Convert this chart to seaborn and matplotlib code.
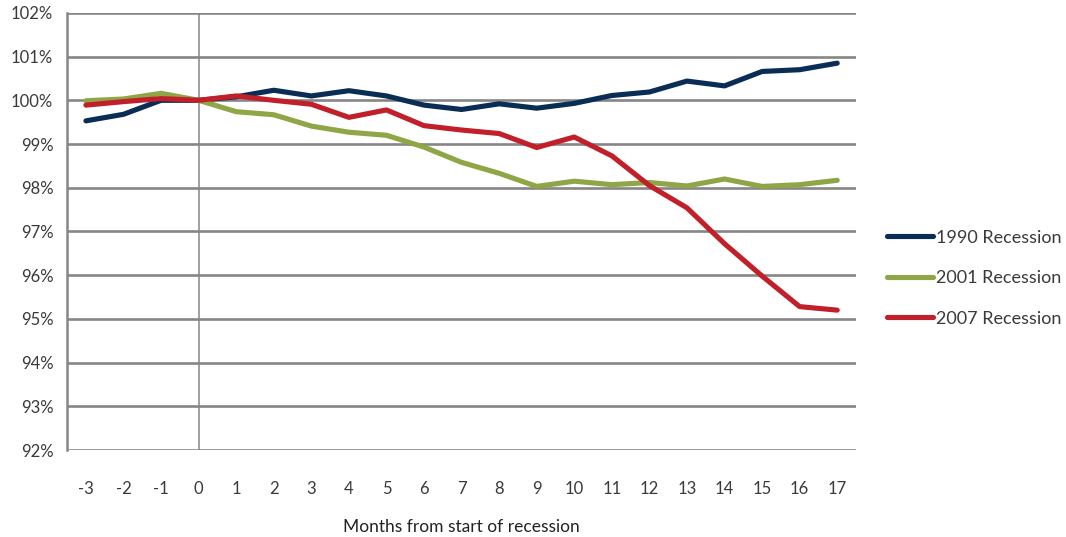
import pandas as pd
import seaborn as sns
import matplotlib.pyplot as plt
import numpy as np

# months relative to recession start, employment indexed to month 0 = 100%
months = list(range(-3, 18))
r1990 = [99.53, 99.68, 100.00, 100.00, 100.08, 100.23, 100.10, 100.22, 100.10, 99.89, 99.79,
         99.92, 99.82, 99.93, 100.11, 100.19, 100.44, 100.33, 100.66, 100.70, 100.85]
r2001 = [99.99, 100.03, 100.16, 100.00, 99.74, 99.67, 99.41, 99.27, 99.20, 98.93, 98.58,
         98.33, 98.03, 98.15, 98.07, 98.12, 98.04, 98.20, 98.03, 98.07, 98.17]
r2007 = [99.89, 99.97, 100.04, 100.00, 100.10, 100.00, 99.91, 99.61, 99.78, 99.42, 99.32,
         99.24, 98.92, 99.16, 98.73, 98.05, 97.54, 96.72, 95.98, 95.28, 95.20]
series_names = ["1990 Recession", "2001 Recession", "2007 Recession"]
palette = ["#0A2D55", "#8FA646", "#C1202A"]

df = pd.DataFrame({"month": months * 3,
                   "value": r1990 + r2001 + r2007,
                   "series": np.repeat(series_names, len(months))})

sns.set_style("white")
plt.rcParams["font.family"] = ["Lato", "DejaVu Sans"]

fig = plt.figure(figsize=(10.66, 5.37), dpi=100)
ax = fig.add_axes([0.063, 0.162, 0.74, 0.814])

grid_c = "#868686"
txt_c = "#3a3a3a"
for v in range(92, 103):
    ax.axhline(v, color=grid_c, lw=1.9, zorder=1)
ax.axvline(0, color=grid_c, lw=1.1, zorder=1)

sns.lineplot(data=df, x="month", y="value", hue="series", palette=palette,
             linewidth=3.7, ax=ax, zorder=3, legend=True)
for ln in ax.lines:
    ln.set_solid_capstyle("round")

ax.set_xlim(-3.5, 17.5)
ax.set_ylim(92, 102)
ax.set_yticks(range(92, 103))
ax.set_yticklabels([f"{v}%" for v in range(92, 103)], color=txt_c, fontsize=12)
ax.set_xticks(months)
ax.set_xticklabels([str(m) for m in months], color=txt_c, fontsize=12)
ax.set_xticks(np.arange(-3.5, 17.6, 1), minor=True)
ax.tick_params(axis="x", which="major", length=0, pad=22)
ax.tick_params(axis="x", which="minor", length=6, width=1.8, color=grid_c, direction="out")
ax.tick_params(axis="y", which="major", length=6, width=1.8, color=grid_c, direction="out", pad=4)

for s in ["top", "right", "bottom"]:
    ax.spines[s].set_visible(False)
ax.spines["left"].set_color(grid_c)
ax.spines["left"].set_linewidth(1.8)

ax.set_xlabel("Months from start of recession", color="#222222", fontsize=12.5, labelpad=16)
ax.set_ylabel("")

handles, labels = ax.get_legend_handles_labels()
ax.legend(handles, labels, loc="center left", bbox_to_anchor=(0.817, 0.482),
          bbox_transform=fig.transFigure, frameon=False, fontsize=13,
          handlelength=2.55, handletextpad=0.15, labelspacing=1.35,
          labelcolor=txt_c)

fig.savefig("out.png", dpi=100)
